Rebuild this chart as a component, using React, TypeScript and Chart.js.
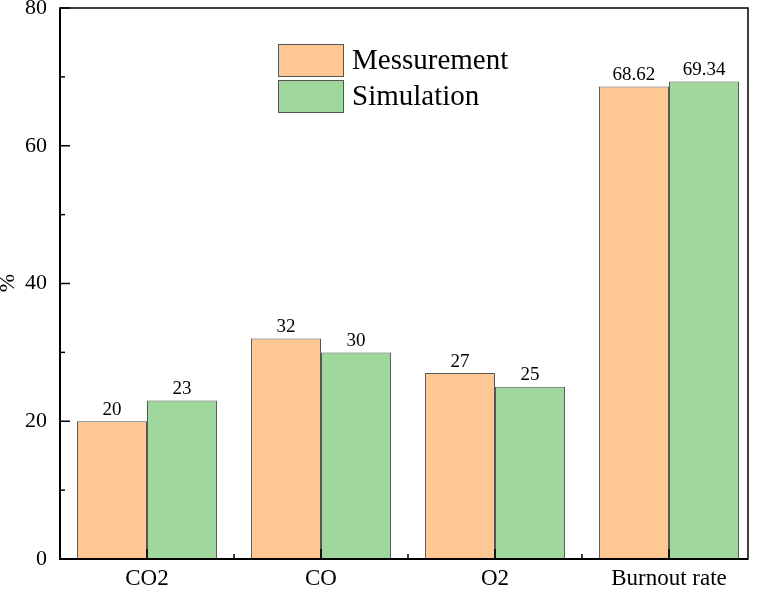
import React, { useEffect, useRef } from "react";
import { Chart, registerables } from "chart.js";

Chart.register(...registerables);

const categories = ["CO2", "CO", "O2", "Burnout rate"];
const measurement = [20, 32, 27, 68.62];
const simulation = [23, 30, 25, 69.34];
const measurementLabels = ["20", "32", "27", "68.62"];
const simulationLabels = ["23", "30", "25", "69.34"];
const yTicks = [0, 20, 40, 60, 80];
const yMinorTicks = [10, 30, 50, 70];
const seriesNames = ["Messurement", "Simulation"];

const ORANGE = "#FEC794";
const GREEN = "#9FD79C";
const FONT = "'Liberation Serif', 'Times New Roman', serif";
const FRAME_RIGHT = 748;

const decorPlugin = {
  id: "decor",
  afterDatasetsDraw(chart: any) {
    const { ctx, chartArea, scales } = chart;
    const { left, top, bottom } = chartArea;
    const right = FRAME_RIGHT;
    const x = scales.x;
    const y = scales.y;
    ctx.save();
    // frame
    ctx.strokeStyle = "#000";
    ctx.lineWidth = 1.5;
    ctx.strokeRect(left, top, right - left, bottom - top);
    ctx.lineWidth = 2;
    ctx.beginPath();
    ctx.moveTo(left, top);
    ctx.lineTo(left, bottom);
    ctx.lineTo(right, bottom);
    ctx.stroke();
    // y ticks inward
    ctx.lineWidth = 1.5;
    yTicks.forEach((v) => {
      const py = y.getPixelForValue(v);
      ctx.beginPath();
      ctx.moveTo(left, py);
      ctx.lineTo(left + 10, py);
      ctx.stroke();
    });
    yMinorTicks.forEach((v) => {
      const py = y.getPixelForValue(v);
      ctx.beginPath();
      ctx.moveTo(left, py);
      ctx.lineTo(left + 5, py);
      ctx.stroke();
    });
    // x ticks inward
    const n = categories.length;
    for (let i = 0; i < n; i++) {
      const px = x.getPixelForValue(i);
      ctx.beginPath();
      ctx.moveTo(px, bottom);
      ctx.lineTo(px, bottom - 10);
      ctx.stroke();
    }
    for (let i = 0; i < n - 1; i++) {
      const px = (x.getPixelForValue(i) + x.getPixelForValue(i + 1)) / 2;
      ctx.beginPath();
      ctx.moveTo(px, bottom);
      ctx.lineTo(px, bottom - 5);
      ctx.stroke();
    }
    // data labels
    ctx.fillStyle = "#000";
    ctx.font = `19px ${FONT}`;
    ctx.textAlign = "center";
    ctx.textBaseline = "bottom";
    const labelSets = [measurementLabels, simulationLabels];
    chart.data.datasets.forEach((ds: any, di: number) => {
      const meta = chart.getDatasetMeta(di);
      meta.data.forEach((bar: any, i: number) => {
        ctx.fillText(labelSets[di][i], bar.x, bar.y - 2);
      });
    });
    // legend
    const colors = [ORANGE, GREEN];
    const lx = 278, ly = 44, bw = 65, bh = 32, gap = 4;
    ctx.font = `29px ${FONT}`;
    ctx.textAlign = "left";
    ctx.textBaseline = "middle";
    seriesNames.forEach((name, i) => {
      const by = ly + i * (bh + gap);
      ctx.fillStyle = colors[i];
      ctx.fillRect(lx, by, bw, bh);
      ctx.strokeStyle = "#555";
      ctx.lineWidth = 1;
      ctx.strokeRect(lx + 0.5, by + 0.5, bw, bh);
      ctx.fillStyle = "#000";
      ctx.fillText(name, lx + bw + 9, by + bh / 2 + 1);
    });
    // y title
    ctx.save();
    ctx.translate(8, 283);
    ctx.rotate(-Math.PI / 2);
    ctx.font = `22px ${FONT}`;
    ctx.textAlign = "center";
    ctx.textBaseline = "middle";
    ctx.fillText("%", 0, 0);
    ctx.restore();
    ctx.restore();
  },
};

export default function App() {
  const ref = useRef<HTMLCanvasElement>(null);
  useEffect(() => {
    document.body.style.margin = "0";
    const chart = new Chart(ref.current!, {
      type: "bar",
      data: {
        labels: categories,
        datasets: [
          {
            label: seriesNames[0],
            data: measurement,
            backgroundColor: ORANGE,
            borderColor: "#555",
            borderWidth: 1,
          },
          {
            label: seriesNames[1],
            data: simulation,
            backgroundColor: GREEN,
            borderColor: "#555",
            borderWidth: 1,
          },
        ],
      },
      options: {
        animation: false,
        responsive: false,
        maintainAspectRatio: false,
        layout: { padding: { top: 8, right: 1, left: 0, bottom: 0 } },
        plugins: { legend: { display: false }, tooltip: { enabled: false } },
        datasets: { bar: { categoryPercentage: 0.805, barPercentage: 1 } },
        scales: {
          x: {
            grid: { display: false, drawTicks: false },
            border: { display: false },
            ticks: { color: "#000", font: { family: FONT, size: 23 }, padding: 6 },
            afterFit: (s: any) => {
              s.height = 30;
              s.paddingLeft = 0;
              s.paddingRight = 0;
            },
          },
          y: {
            min: 0,
            max: 80,
            grid: { display: false, drawTicks: false },
            border: { display: false },
            ticks: {
              stepSize: 20,
              color: "#000",
              font: { family: FONT, size: 22 },
              padding: 13,
            },
            afterFit: (s: any) => {
              s.width = 60;
              s.paddingTop = 0;
              s.paddingBottom = 0;
            },
          },
        },
      },
      plugins: [decorPlugin],
    });
    return () => chart.destroy();
  }, []);
  return (
    <div style={{ width: 757, height: 589 }}>
      <canvas ref={ref} width={757} height={589} style={{ display: "block" }} />
    </div>
  );
}
